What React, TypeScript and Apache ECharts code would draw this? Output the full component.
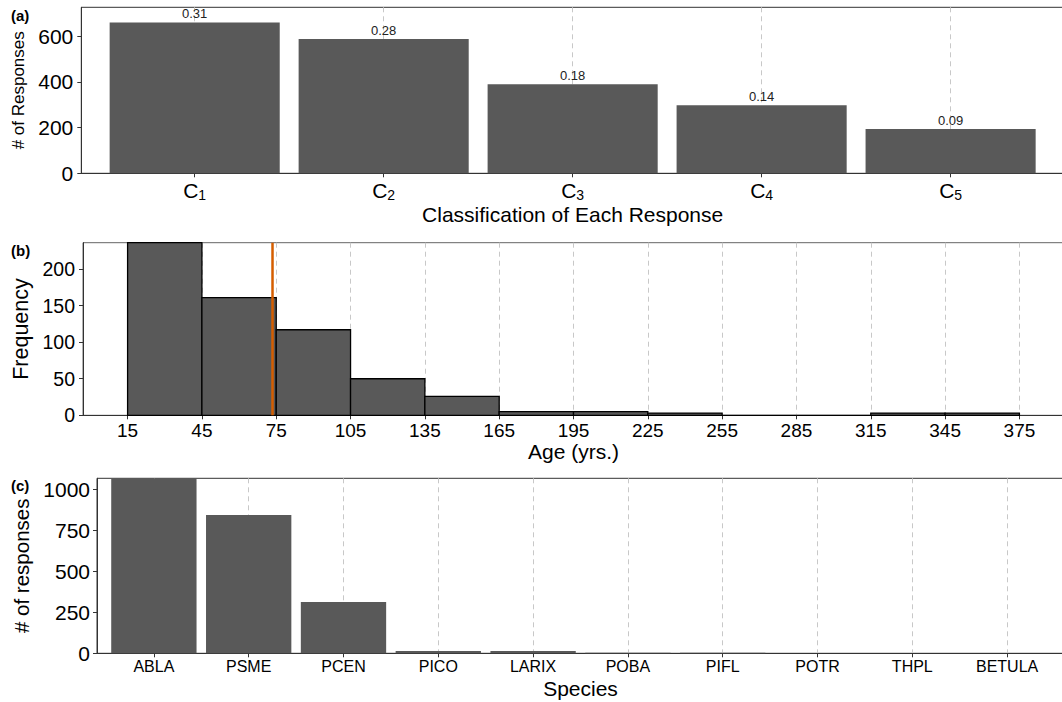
import React, { useEffect, useRef } from "react";
import * as echarts from "echarts";

const FONT = "'Liberation Sans', Arial, Helvetica, sans-serif";

// Panel (a)
const classSubs = ["1", "2", "3", "4", "5"];
const classCounts = [660, 587, 390, 298, 194];
const classYTicks = [0, 200, 400, 600];

// Panel (b)
const ageBinStarts = [15, 45, 75, 105, 135, 165, 195, 225, 255, 285, 315, 345];
const ageCounts = [236, 161, 117, 50, 26, 5, 5, 3, 0, 0, 3, 3];
const ageBinWidth = 30;
const meanAge = 73.5;
const ageTicks = [15, 45, 75, 105, 135, 165, 195, 225, 255, 285, 315, 345, 375];
const ageYTicks = [0, 50, 100, 150, 200];

// Panel (c)
const species = ["ABLA", "PSME", "PCEN", "PICO", "LARIX", "POBA", "PIFL", "POTR", "THPL", "BETULA"];
const speciesCounts = [1067, 843, 313, 14, 14, 4, 4, 1, 1, 1];
const speciesYTicks = [0, 250, 500, 750, 1000];

const W = 1064;
const A = { left: 81.3, top: 7.3, height: 166 };
const B = { left: 83, top: 242.7, height: 172.6 };
const C = { left: 97, top: 478.3, height: 175 };

const BAR = "#595959";
const AXIS = "#333";
const GRIDC = "#c8c8c8";

export default function App() {
  const ref = useRef<HTMLDivElement>(null);
  useEffect(() => {
    if (!ref.current) return;
    const chart = echarts.init(ref.current, undefined, { renderer: "svg" });
    const total = classCounts.reduce((s, v) => s + v, 0);
    const shares = classCounts.map((v) => (v / total).toFixed(2));
    const aMax = Math.max(...classCounts) * 1.1;
    const bMax = Math.max(...ageCounts);
    const cMax = Math.max(...speciesCounts);
    const aBarW = ((W - A.left) / (classCounts.length + 0.2)) * 0.9;
    const cBarW = ((W - C.left) / (species.length + 0.2)) * 0.9;
    const classX = classCounts.map((_, i) => i + 1);
    const speciesX = species.map((_, i) => i + 1);

    const gridBase = {
      right: 0,
      show: true,
      borderWidth: 1,
      backgroundColor: "transparent",
      containLabel: false,
      outerBoundsMode: "none",
    };
    const axisLine = { show: true, onZero: false, lineStyle: { color: AXIS, width: 1 } };
    const split = { show: true, lineStyle: { color: GRIDC, width: 1, type: [5, 4] } };
    const tick = (vals: number[]) => ({ show: true, length: 4, customValues: vals, lineStyle: { color: AXIS } });
    const nameStyle = (size: number) => ({ fontSize: size, color: "#000", fontFamily: FONT });
    const plain = (v: number) => String(v);

    const option: any = {
      animation: false,
      backgroundColor: "#fff",
      grid: [
        { ...gridBase, left: A.left, top: A.top, height: A.height, borderColor: "#333" },
        { ...gridBase, left: B.left, top: B.top, height: B.height, borderColor: "#666" },
        { ...gridBase, left: C.left, top: C.top, height: C.height, borderColor: "#333" },
      ],
      xAxis: [
        {
          gridIndex: 0,
          type: "value",
          min: 0.4,
          max: classCounts.length + 0.6,
          axisLine,
          axisTick: tick(classX),
          splitLine: split,
          axisLabel: {
            customValues: classX,
            margin: 7,
            formatter: (v: number) => `{c|C}{s|${classSubs[Math.round(v) - 1]}}`,
            rich: {
              c: { fontSize: 21, lineHeight: 21, verticalAlign: "top", color: "#000", fontFamily: FONT },
              s: { fontSize: 14, lineHeight: 14, verticalAlign: "top", padding: [8, 0, 0, 0], color: "#000", fontFamily: FONT },
            },
          },
          name: "Classification of Each Response",
          nameLocation: "middle",
          nameGap: 31,
          nameTextStyle: nameStyle(21),
        },
        {
          gridIndex: 1,
          type: "value",
          min: -3,
          max: 393,
          axisLine,
          axisTick: tick(ageTicks),
          splitLine: split,
          axisLabel: { customValues: ageTicks, margin: 6, fontSize: 19, color: "#000", fontFamily: FONT, formatter: plain },
          name: "Age (yrs.)",
          nameLocation: "middle",
          nameGap: 22,
          nameTextStyle: nameStyle(21),
        },
        {
          gridIndex: 2,
          type: "value",
          min: 0.4,
          max: species.length + 0.6,
          axisLine,
          axisTick: tick(speciesX),
          splitLine: split,
          axisLabel: {
            customValues: speciesX,
            margin: 5,
            fontSize: 16,
            color: "#000",
            fontFamily: FONT,
            formatter: (v: number) => species[Math.round(v) - 1],
          },
          name: "Species",
          nameLocation: "middle",
          nameGap: 25,
          nameTextStyle: nameStyle(21),
        },
      ],
      yAxis: [
        {
          gridIndex: 0,
          type: "value",
          min: 0,
          max: aMax,
          axisLine,
          axisTick: tick(classYTicks),
          splitLine: { show: false },
          axisLabel: { customValues: classYTicks, margin: 8, fontSize: 21, color: "#000", fontFamily: FONT, formatter: plain },
          name: "# of Responses",
          nameLocation: "middle",
          nameGap: 48,
          nameTextStyle: nameStyle(17),
        },
        {
          gridIndex: 1,
          type: "value",
          min: 0,
          max: bMax,
          axisLine,
          axisTick: tick(ageYTicks),
          splitLine: { show: false },
          axisLabel: { customValues: ageYTicks, margin: 8, fontSize: 19.5, color: "#000", fontFamily: FONT, formatter: plain },
          name: "Frequency",
          nameLocation: "middle",
          nameGap: 48,
          nameTextStyle: nameStyle(21.5),
        },
        {
          gridIndex: 2,
          type: "value",
          min: 0,
          max: cMax,
          axisLine,
          axisTick: tick(speciesYTicks),
          splitLine: { show: false },
          axisLabel: { customValues: speciesYTicks, margin: 7, fontSize: 21, color: "#000", fontFamily: FONT, formatter: plain },
          name: "# of responses",
          nameLocation: "middle",
          nameGap: 62,
          nameTextStyle: nameStyle(20.5),
        },
      ],
      series: [
        {
          type: "bar",
          xAxisIndex: 0,
          yAxisIndex: 0,
          barWidth: aBarW,
          data: classCounts.map((v, i) => [i + 1, v]),
          itemStyle: { color: BAR },
          label: {
            show: true,
            position: "top",
            distance: 2,
            formatter: (p: any) => shares[p.dataIndex],
            fontSize: 13,
            color: "#222",
            fontFamily: FONT,
          },
        },
        {
          type: "custom",
          xAxisIndex: 1,
          yAxisIndex: 1,
          data: ageBinStarts.map((s, i) => [s, s + ageBinWidth, ageCounts[i]]),
          encode: { x: [0, 1], y: 2 },
          renderItem: (params: any, api: any) => {
            const p0 = api.coord([api.value(0), api.value(2)]);
            const p1 = api.coord([api.value(1), 0]);
            return {
              type: "rect",
              shape: { x: p0[0], y: p0[1], width: p1[0] - p0[0], height: p1[1] - p0[1] },
              style: { fill: BAR, stroke: "#000", lineWidth: 1.3 },
            };
          },
        },
        {
          type: "line",
          xAxisIndex: 1,
          yAxisIndex: 1,
          data: [
            [meanAge, 0],
            [meanAge, bMax],
          ],
          symbol: "none",
          lineStyle: { color: "#D55E00", width: 2.5 },
          z: 5,
        },
        {
          type: "bar",
          xAxisIndex: 2,
          yAxisIndex: 2,
          barWidth: cBarW,
          data: speciesCounts.map((v, i) => [i + 1, v]),
          itemStyle: { color: BAR },
        },
      ],
      graphic: [
        { type: "text", left: 11, top: 8, style: { text: "(a)", fontSize: 15, fontWeight: "bold", fill: "#000", fontFamily: FONT } },
        { type: "text", left: 11, top: 243, style: { text: "(b)", fontSize: 15, fontWeight: "bold", fill: "#000", fontFamily: FONT } },
        { type: "text", left: 11, top: 478, style: { text: "(c)", fontSize: 15, fontWeight: "bold", fill: "#000", fontFamily: FONT } },
      ],
    };
    chart.setOption(option);
    return () => chart.dispose();
  }, []);
  return (
    <div style={{ position: "fixed", left: 0, top: 0, width: 1062, height: 702, overflow: "hidden", background: "#fff" }}>
      <div ref={ref} style={{ width: W, height: 702 }} />
    </div>
  );
}
